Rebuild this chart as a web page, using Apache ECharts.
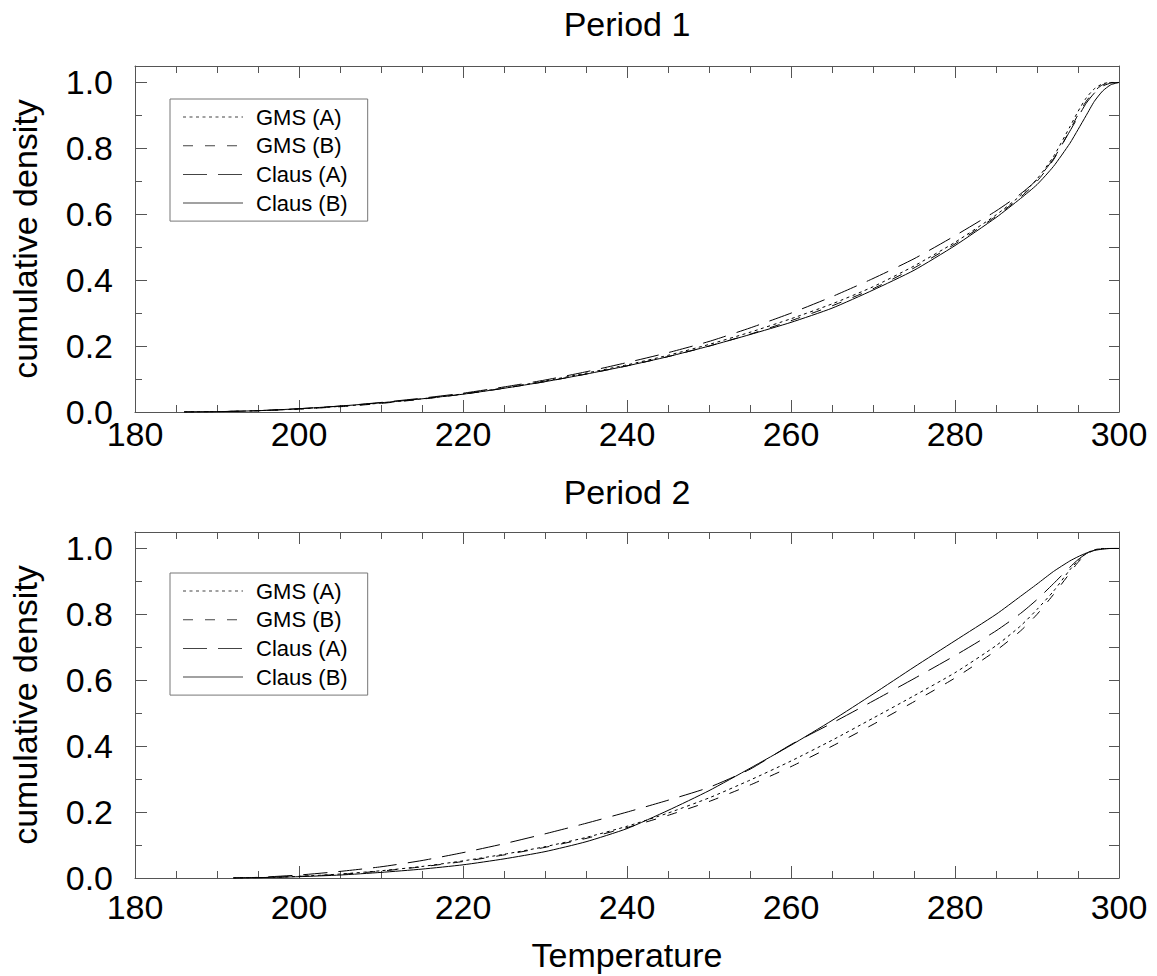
<!DOCTYPE html>
<html>
<head>
<meta charset="utf-8">
<title>Cumulative density of temperature</title>
<script src="https://cdn.jsdelivr.net/npm/echarts@6/dist/echarts.min.js"></script>
<style>
  html, body { margin: 0; padding: 0; background: #fff; }
  #chart { width: 1157px; height: 976px; }
</style>
</head>
<body>
<div id="chart"></div>
<script>
// Temperature grid for each period
const temps1 = [186,190,195,200,205,210,215,220,225,230,235,240,245,250,255,260,265,270,275,280,285,288,290,292,294,295,296,297,298,299,300];
const temps2 = [192,195,200,205,210,215,220,225,230,235,240,245,250,255,260,265,270,275,280,285,288,290,292,294,295,296,297,298,299,300];

// Period 1 cumulative densities
const gmsA1  = [0,0.001,0.004,0.009,0.017,0.027,0.040,0.055,0.073,0.094,0.118,0.143,0.172,0.205,0.242,0.283,0.328,0.380,0.443,0.515,0.598,0.657,0.707,0.775,0.865,0.912,0.953,0.981,0.996,1.000,1.000];
const gmsB1  = [0,0.001,0.004,0.009,0.016,0.026,0.039,0.054,0.072,0.092,0.115,0.140,0.168,0.200,0.236,0.277,0.322,0.374,0.437,0.510,0.594,0.652,0.700,0.765,0.855,0.902,0.943,0.974,0.993,0.999,1.000];
const clausA1 = [0,0.001,0.004,0.010,0.018,0.029,0.042,0.057,0.076,0.097,0.122,0.150,0.180,0.214,0.255,0.300,0.350,0.405,0.465,0.535,0.610,0.662,0.705,0.768,0.852,0.895,0.937,0.968,0.989,0.998,1.000];
const clausB1 = [0,0.001,0.004,0.010,0.018,0.028,0.040,0.054,0.072,0.092,0.115,0.140,0.168,0.200,0.235,0.272,0.315,0.370,0.430,0.505,0.590,0.648,0.690,0.745,0.815,0.857,0.900,0.943,0.974,0.993,1.000];

// Period 2 cumulative densities
const gmsA2  = [0,0.001,0.005,0.012,0.022,0.035,0.052,0.072,0.095,0.123,0.157,0.197,0.243,0.297,0.355,0.418,0.485,0.553,0.623,0.705,0.765,0.815,0.870,0.935,0.963,0.985,0.996,1.000,1.000,1.000];
const gmsB2  = [0,0.001,0.005,0.011,0.021,0.034,0.050,0.070,0.093,0.120,0.153,0.190,0.232,0.282,0.338,0.400,0.466,0.535,0.607,0.690,0.750,0.800,0.860,0.925,0.958,0.982,0.995,1.000,1.000,1.000];
const clausA2 = [0,0.002,0.009,0.020,0.034,0.053,0.077,0.104,0.134,0.166,0.200,0.236,0.275,0.330,0.405,0.470,0.537,0.605,0.675,0.750,0.803,0.845,0.893,0.943,0.966,0.984,0.994,0.999,1.000,1.000];
const clausB2 = [0,0.001,0.004,0.009,0.017,0.027,0.040,0.058,0.080,0.110,0.150,0.205,0.265,0.333,0.403,0.478,0.558,0.640,0.720,0.800,0.855,0.892,0.930,0.962,0.975,0.986,0.994,0.998,1.000,1.000];

const seriesNames = ['GMS (A)', 'GMS (B)', 'Claus (A)', 'Claus (B)'];
const periodTitles = ['Period 1', 'Period 2'];
const xTitle = 'Temperature';
const yTitle = 'cumulative density';
const yMajorTicks = [0, 0.2, 0.4, 0.6, 0.8, 1.0];
const yMinorTicks = [0.1, 0.3, 0.5, 0.7, 0.9];
const yAllTicks = [0.1, 0.2, 0.3, 0.4, 0.5, 0.6, 0.7, 0.8, 0.9, 1.0];

const FONT = '"Liberation Sans", Arial, Helvetica, sans-serif';
const AXIS_COLOR = '#555';
const dashes = [[3, 3.5], [10, 12], [24, 11], 'solid'];

// Legend key: a horizontal line sample built from the dash pattern,
// drawn as thin filled segments inside a 60x22 box.
const KEY_W = 60, KEY_H = 22;
function keyPath(dash) {
  const y0 = KEY_H / 2 - 0.5, h = 1;
  let d = 'M0,0h0.01v0.01h-0.01z M' + (KEY_W - 0.01) + ',' + (KEY_H - 0.01) + 'h0.01v0.01h-0.01z ';
  const pattern = dash === 'solid' ? [KEY_W, 0] : dash;
  let x = 0, k = 0;
  while (x < KEY_W) {
    const len = pattern[k % pattern.length];
    if (k % 2 === 0) {
      const w = Math.min(len, KEY_W - x);
      d += 'M' + x + ',' + y0 + 'h' + w + 'v' + h + 'h' + (-w) + 'z ';
    }
    x += len;
    k++;
    if (len === 0) break;
  }
  return 'path://' + d;
}

const pairs = (xs, ys) => xs.map((x, i) => [x, ys[i]]);
const periods = [
  { temps: temps1, values: [gmsA1, gmsB1, clausA1, clausB1] },
  { temps: temps2, values: [gmsA2, gmsB2, clausA2, clausB2] }
];

const grids = [
  { left: 135, top: 66, width: 984, height: 346 },
  { left: 135, top: 532, width: 984, height: 346 }
];
const xLabelMargin = [5, 12];

const xAxes = [];
const yAxes = [];
grids.forEach((g, gi) => {
  const baseX = {
    gridIndex: gi, type: 'value', min: 180, max: 300, interval: 20,
    axisLine: { show: true, onZero: false, lineStyle: { color: AXIS_COLOR, width: 1 } },
    axisTick: { show: true, inside: true, length: 12, lineStyle: { color: AXIS_COLOR } },
    minorTick: { show: true, splitNumber: 4, length: 7, lineStyle: { color: AXIS_COLOR } },
    splitLine: { show: false }
  };
  xAxes.push(Object.assign({}, baseX, {
    position: 'bottom',
    axisLabel: { show: true, fontSize: 34, color: '#000', fontFamily: FONT, margin: xLabelMargin[gi] },
    name: gi === 1 ? xTitle : '',
    nameLocation: 'middle', nameGap: 60,
    nameTextStyle: { fontSize: 34, color: '#000', fontFamily: FONT }
  }));
  xAxes.push(Object.assign({}, baseX, { position: 'top', axisLabel: { show: false } }));

  const baseY = {
    gridIndex: gi, type: 'value', min: 0, max: 1.05,
    splitLine: { show: false }
  };
  yAxes.push(Object.assign({}, baseY, {
    position: 'left',
    axisLine: { show: true, onZero: false, lineStyle: { color: AXIS_COLOR, width: 1 } },
    axisTick: { show: true, inside: true, length: 12, customValues: yMajorTicks, lineStyle: { color: AXIS_COLOR } },
    axisLabel: { show: true, customValues: yMajorTicks, formatter: v => v.toFixed(1),
                 fontSize: 34, color: '#000', fontFamily: FONT, margin: 22 },
    name: yTitle, nameLocation: 'middle', nameGap: 93,
    nameTextStyle: { fontSize: 34, color: '#000', fontFamily: FONT }
  }));
  yAxes.push(Object.assign({}, baseY, {
    position: 'left',
    axisLine: { show: false },
    axisTick: { show: true, inside: true, length: 7, customValues: yMinorTicks, lineStyle: { color: AXIS_COLOR } },
    axisLabel: { show: false }
  }));
  yAxes.push(Object.assign({}, baseY, {
    position: 'right',
    axisLine: { show: true, onZero: false, lineStyle: { color: AXIS_COLOR, width: 1 } },
    axisTick: { show: true, inside: true, length: 10, customValues: yAllTicks, lineStyle: { color: AXIS_COLOR } },
    axisLabel: { show: false }
  }));
});

const series = [];
periods.forEach((p, gi) => {
  p.values.forEach((vals, si) => {
    series.push({
      name: seriesNames[si],
      type: 'line',
      xAxisIndex: gi * 2,
      yAxisIndex: gi * 3,
      data: pairs(p.temps, vals),
      symbol: 'none',
      smooth: 0.2,
      lineStyle: { color: '#000', width: 1, type: dashes[si] },
      itemStyle: { color: '#000' },
      z: 2 + si
    });
  });
});

const legendBase = {
  orient: 'vertical',
  left: 170,
  data: seriesNames.map((n, i) => ({ name: n, icon: keyPath(dashes[i]) })),
  selectedMode: false,
  itemWidth: KEY_W,
  itemHeight: KEY_H,
  itemGap: 6.7,
  padding: [7, 20, 7, 13],
  borderColor: '#777',
  borderWidth: 1,
  backgroundColor: '#fff',
  itemStyle: { color: '#444', borderWidth: 0 },
  textStyle: { fontSize: 22, lineHeight: 22, color: '#000', fontFamily: FONT, padding: [0, 0, 0, 8] }
};

const chart = echarts.init(document.getElementById('chart'), null, { renderer: 'svg' });
chart.setOption({
  animation: false,
  backgroundColor: '#fff',
  grid: grids,
  xAxis: xAxes,
  yAxis: yAxes,
  legend: [
    Object.assign({}, legendBase, { top: 99 }),
    Object.assign({}, legendBase, { top: 573 })
  ],
  graphic: periodTitles.map((t, i) => ({
    type: 'text',
    x: 627,
    y: i === 0 ? 24 : 492,
    style: { text: t, font: '34px ' + FONT, fill: '#000', align: 'center', verticalAlign: 'middle' }
  })),
  series: series
});
</script>
</body>
</html>
